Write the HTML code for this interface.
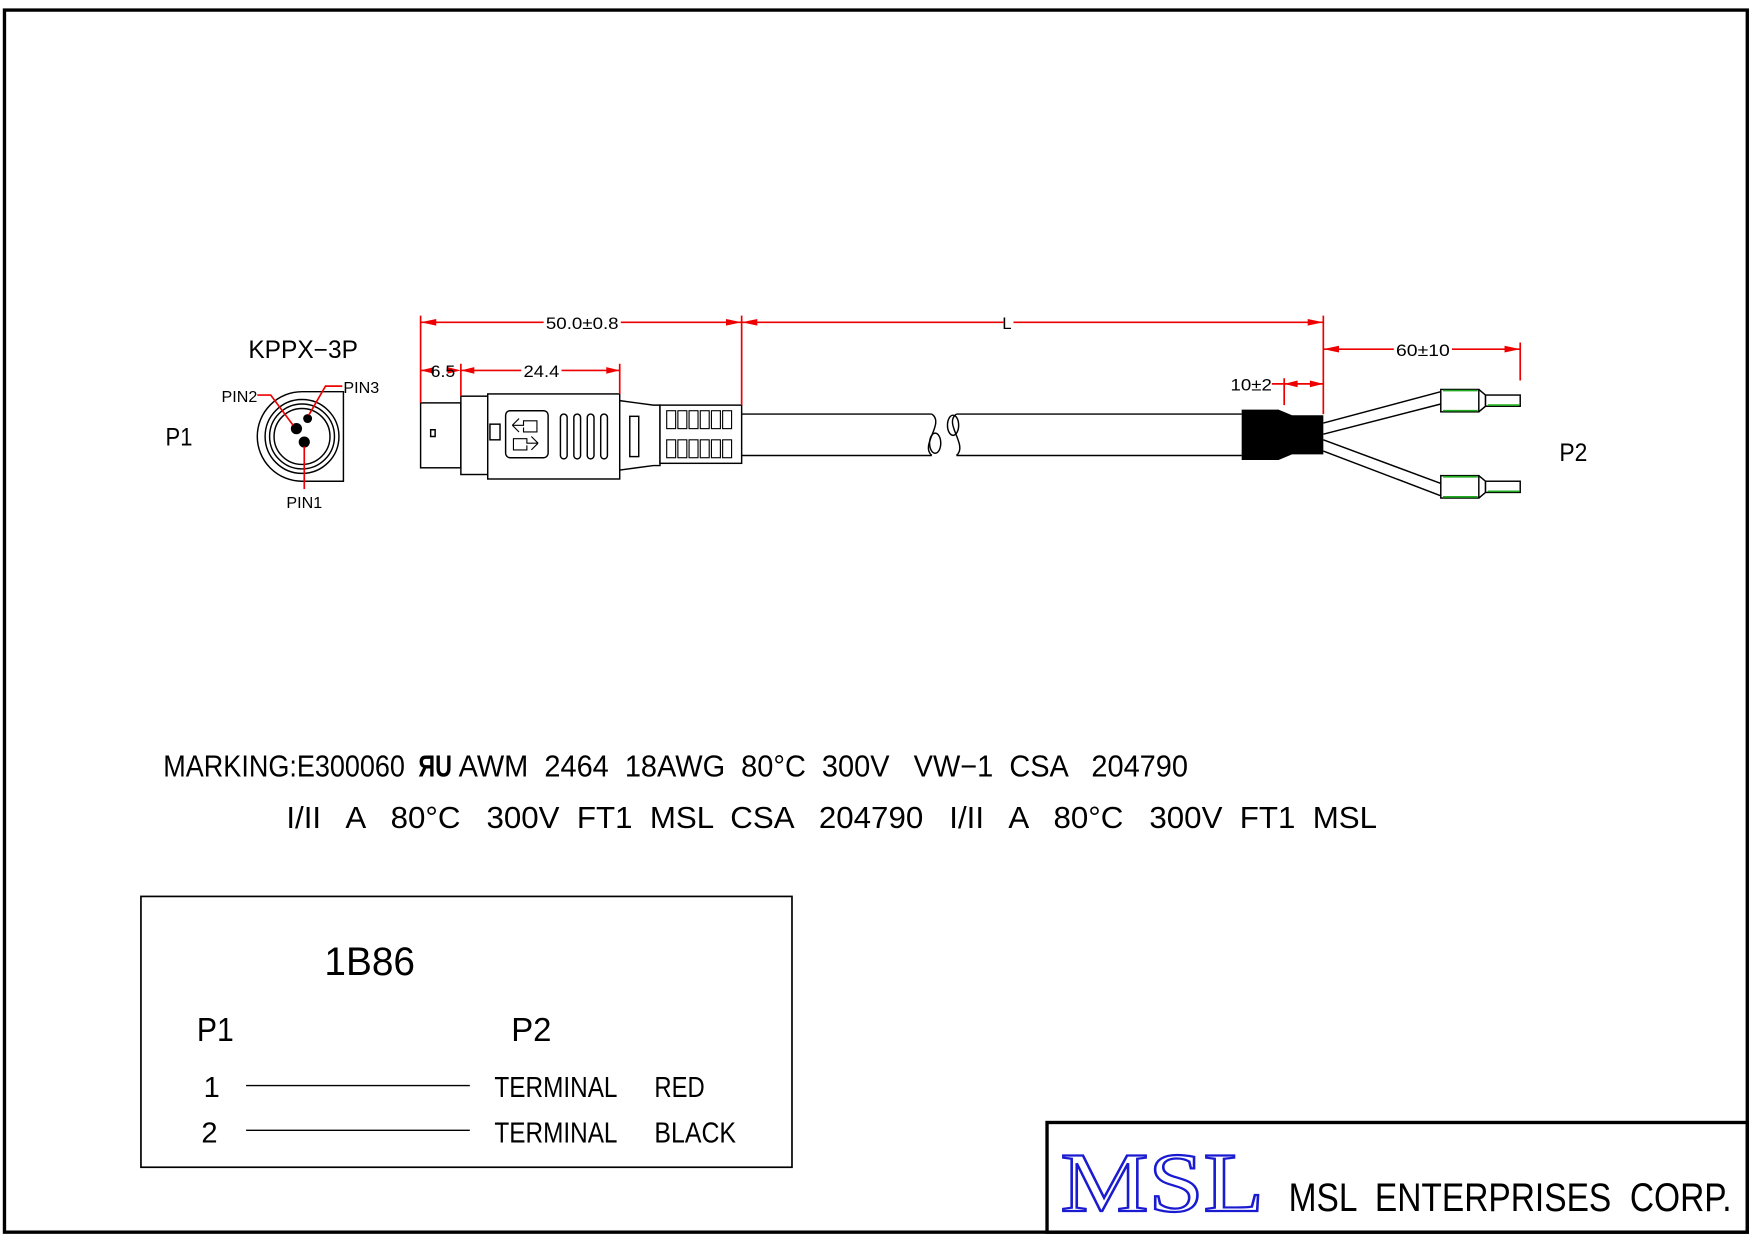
<!DOCTYPE html>
<html><head><meta charset="utf-8"><style>
html,body{margin:0;padding:0;background:#fff}
svg{display:block}
text{font-family:"Liberation Sans Narrow","Liberation Sans",sans-serif;fill:#000}
</style></head><body>
<svg width="1754" height="1240" viewBox="0 0 1568 1108" preserveAspectRatio="none" xmlns="http://www.w3.org/2000/svg">
<rect x="0" y="0" width="1568" height="1108" fill="#fff"/>
<rect x="4" y="9" width="1558" height="1092" fill="none" stroke="#000" stroke-width="3"/>
<rect x="936" y="1003" width="626" height="98" fill="none" stroke="#000" stroke-width="3"/>
<rect x="126" y="801" width="582" height="242" fill="none" stroke="#000" stroke-width="1.5"/>

<!-- End view -->
<text x="222" y="320" font-size="22" textLength="98" lengthAdjust="spacingAndGlyphs">KPPX−3P</text>
<text x="148" y="398" font-size="22" textLength="24" lengthAdjust="spacingAndGlyphs">P1</text>
<g fill="none" stroke="#000" stroke-width="1.3">
<path d="M270 350 A40 40 0 0 0 270 430 L307 430 L307 350 Z" fill="#fff"/>
<circle cx="270" cy="390" r="33"/>
<circle cx="270" cy="390" r="29"/>
<circle cx="270" cy="390" r="25"/>
</g>
<circle cx="265" cy="383" r="5"/>
<circle cx="275" cy="374" r="4"/>
<circle cx="272" cy="395" r="5"/>
<g stroke="#e00" stroke-width="1.5" fill="none">
<path d="M230 353 H242 L262 380"/>
<path d="M306 345 H291 L276 371"/>
<path d="M272 399 V437"/>
</g>
<text x="198" y="359" font-size="14" textLength="32" lengthAdjust="spacingAndGlyphs">PIN2</text>
<text x="307" y="351" font-size="14" textLength="32" lengthAdjust="spacingAndGlyphs">PIN3</text>
<text x="256" y="454" font-size="14" textLength="32" lengthAdjust="spacingAndGlyphs">PIN1</text>

<!-- Plug side -->
<g fill="#fff" stroke="#000" stroke-width="1.3">
<rect x="376" y="360" width="36" height="58"/>
<rect x="412" y="354" width="24" height="70"/>
<rect x="436" y="352" width="118" height="76"/>
<rect x="452" y="367" width="38" height="42" rx="4"/>
<rect x="501" y="370" width="6" height="40" rx="3"/>
<rect x="513" y="370" width="6" height="40" rx="3"/>
<rect x="525" y="370" width="6" height="40" rx="3"/>
<rect x="537" y="370" width="6" height="40" rx="3"/>
<rect x="438" y="379" width="9" height="14"/>
<path d="M554 358 L584 362 L590 362 L590 416 L584 416 L554 420 Z"/>
<rect x="563" y="372" width="8" height="36"/>
<rect x="590" y="362" width="73" height="52"/>
<path d="M385 384 h4 v6 h-4 z"/>
</g>
<g fill="none" stroke="#000" stroke-width="1">
<path d="M458 380 h10 v-4 h12 v10 h-12 v-4 M458 380 l6 -6 M458 380 l6 6" />
<path d="M481 396 h-10 v-4 h-12 v10 h12 v-4 M481 396 l-6 -6 M481 396 l-6 6"/>
</g>
<g fill="none" stroke="#000" stroke-width="1">
<rect x="596" y="367" width="8" height="16"/><rect x="606" y="367" width="8" height="16"/><rect x="616" y="367" width="8" height="16"/><rect x="626" y="367" width="8" height="16"/><rect x="636" y="367" width="8" height="16"/><rect x="646" y="367" width="8" height="16"/>
<rect x="596" y="393" width="8" height="16"/><rect x="606" y="393" width="8" height="16"/><rect x="616" y="393" width="8" height="16"/><rect x="626" y="393" width="8" height="16"/><rect x="636" y="393" width="8" height="16"/><rect x="646" y="393" width="8" height="16"/>
</g>
<!-- cable -->
<g fill="none" stroke="#000" stroke-width="1.3">
<path d="M663 370 H833 M663 407 H833"/>
<path d="M833 370 C845 378 822 398 833 407"/>
<path d="M855 370 C843 378 866 398 855 407"/>
<path d="M855 370 H1110 M855 407 H1110"/>
<ellipse cx="836" cy="396" rx="5" ry="9"/>
<ellipse cx="852" cy="380" rx="5" ry="9"/>
</g>
<path d="M1110 366 H1143 L1155 371 H1183 V406 H1155 L1143 411 H1110 Z" fill="#000"/>
<g fill="none" stroke="#000" stroke-width="1.3">
<path d="M1183 378 L1288 350 M1183 388 L1288 361"/>
<path d="M1183 393 L1288 432 M1183 403 L1288 443"/>
<rect x="1288" y="348" width="34" height="20" fill="#fff"/>
<path d="M1322 348 L1328 353 V363 L1322 368"/>
<rect x="1328" y="353" width="31" height="10" fill="#fff"/>
<rect x="1288" y="425" width="34" height="20" fill="#fff"/>
<path d="M1322 425 L1328 430 V440 L1322 445"/>
<rect x="1328" y="430" width="31" height="10" fill="#fff"/>
</g>
<g stroke="#2a2" stroke-width="1.5">
<path d="M1290 349 H1321 M1290 367 H1321 M1330 362 H1358"/>
<path d="M1290 426 H1321 M1290 444 H1321 M1330 439 H1358"/>
</g>
<text x="1394" y="412" font-size="22" textLength="25" lengthAdjust="spacingAndGlyphs">P2</text>

<!-- Dimensions -->
<g stroke="#e00" stroke-width="1.5" fill="none">
<path d="M376 282 V360 M663 282 V362 M1183 282 V370 M412 325 V354 M554 325 V352 M1359 306 V340 M1148 338 V362"/>
<path d="M376 288 H486 M555 288 H897 M906 288 H1183"/>
<path d="M376 331 H384 M412 331 H466 M502 331 H554"/>
<path d="M1183 312 H1246 M1298 312 H1359"/>
<path d="M1137 343 H1183"/>
</g>
<g fill="#e00">
<path d="M376 288 l14 -3 v6 z M663 288 l-14 -3 v6 z M663 288 l14 -3 v6 z M1183 288 l-14 -3 v6 z"/>
<path d="M376 331 l12 -3 v6 z M412 331 l-12 -3 v6 z M412 331 l12 -3 v6 z M554 331 l-12 -3 v6 z"/>
<path d="M1183 312 l14 -3 v6 z M1359 312 l-14 -3 v6 z"/>
<path d="M1148 343 l12 -3 v6 z M1183 343 l-12 -3 v6 z"/>
</g>
<text x="488" y="294" font-size="15" textLength="65" lengthAdjust="spacingAndGlyphs">50.0±0.8</text>
<text x="896" y="294" font-size="15">L</text>
<text x="385" y="337" font-size="15" textLength="22" lengthAdjust="spacingAndGlyphs">6.5</text>
<text x="468" y="337" font-size="15" textLength="32" lengthAdjust="spacingAndGlyphs">24.4</text>
<text x="1248" y="318" font-size="15" textLength="48" lengthAdjust="spacingAndGlyphs">60±10</text>
<text x="1100" y="349" font-size="15" textLength="37" lengthAdjust="spacingAndGlyphs">10±2</text>

<!-- Marking -->
<text x="146" y="694" font-size="27" textLength="216" lengthAdjust="spacingAndGlyphs">MARKING:E300060</text>
<text x="374" y="694" font-size="27" font-weight="bold" textLength="30" lengthAdjust="spacingAndGlyphs">ЯU</text>
<text x="410" y="694" font-size="27" textLength="652" lengthAdjust="spacingAndGlyphs" xml:space="preserve">AWM  2464  18AWG  80°C  300V   VW−1  CSA   204790</text>
<text x="256" y="740" font-size="27" textLength="975" lengthAdjust="spacingAndGlyphs" xml:space="preserve">I/II   A   80°C   300V  FT1  MSL  CSA   204790   I/II   A   80°C   300V  FT1  MSL</text>

<!-- Table -->
<text x="290" y="871" font-size="36" textLength="81" lengthAdjust="spacingAndGlyphs">1B86</text>
<text x="176" y="930" font-size="30" textLength="33" lengthAdjust="spacingAndGlyphs">P1</text>
<text x="457" y="930" font-size="30" textLength="36" lengthAdjust="spacingAndGlyphs">P2</text>
<text x="182" y="980" font-size="26">1</text>
<text x="180" y="1021" font-size="26">2</text>
<path d="M220 970 H420 M220 1010 H420" stroke="#000" stroke-width="1.3"/>
<text x="442" y="980" font-size="26" textLength="110" lengthAdjust="spacingAndGlyphs">TERMINAL</text>
<text x="585" y="980" font-size="26" textLength="45" lengthAdjust="spacingAndGlyphs">RED</text>
<text x="442" y="1021" font-size="26" textLength="110" lengthAdjust="spacingAndGlyphs">TERMINAL</text>
<text x="585" y="1021" font-size="26" textLength="73" lengthAdjust="spacingAndGlyphs">BLACK</text>

<!-- Title -->
<text x="948" y="1082" font-size="76" textLength="182" lengthAdjust="spacingAndGlyphs" style="font-family:'Liberation Serif',serif;fill:#fff;stroke:#1a1ad0;stroke-width:2">MSL</text>
<text x="1152" y="1082" font-size="36" textLength="396" lengthAdjust="spacingAndGlyphs" xml:space="preserve">MSL  ENTERPRISES  CORP.</text>
</svg>
</body></html>
